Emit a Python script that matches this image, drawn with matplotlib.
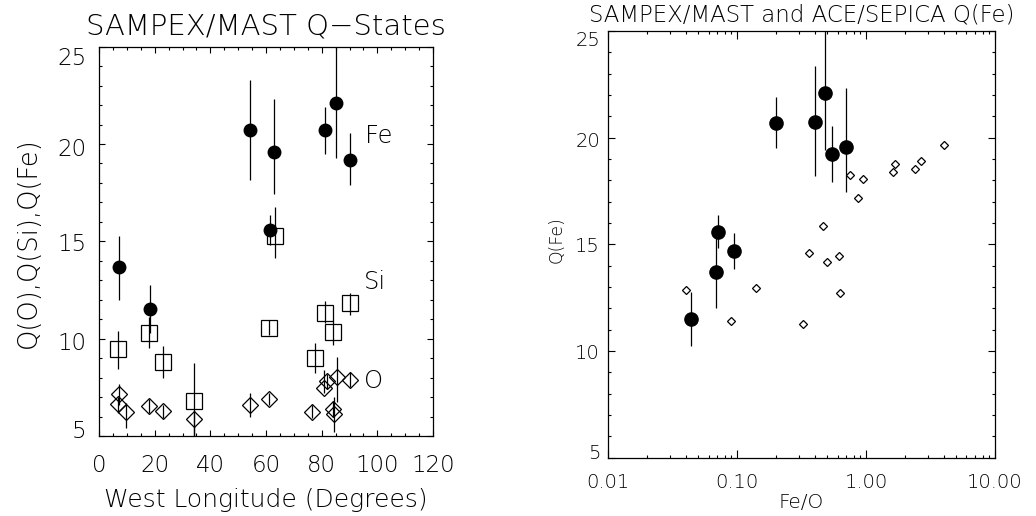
import numpy as np
import matplotlib
matplotlib.use('Agg')
from matplotlib import pyplot as plt
from matplotlib.ticker import MultipleLocator, FixedLocator, FuncFormatter, LogLocator, NullFormatter
from matplotlib.transforms import ScaledTranslation

plt.rcParams['font.family'] = ['DejaVu Sans']
plt.rcParams['font.weight'] = 200
plt.rcParams['axes.titleweight'] = 200

# SAMPEX/MAST charge states vs west longitude
lon_fe = [7.2, 18.3, 54.2, 62.9, 61.4, 81.1, 85.1, 90.0]
q_fe = [13.7, 11.5, 20.7, 19.6, 15.6, 20.7, 22.1, 19.2]
q_fe_lo = [12.0, 10.3, 18.15, 17.45, 14.8, 19.5, 19.3, 17.9]
q_fe_hi = [15.3, 12.75, 23.3, 22.3, 16.35, 21.9, 25.5, 20.55]

lon_si = [7.0, 17.9, 23.1, 34.1, 61.1, 63.2, 77.6, 81.2, 84.2, 90.2]
q_si = [9.45, 10.3, 8.78, 6.78, 10.57, 15.27, 8.99, 11.3, 10.35, 11.81]
q_si_lo = [8.43, 9.5, 8.0, 4.5, 10.2, 14.13, 8.22, 10.8, 9.67, 11.22]
q_si_hi = [10.4, 11.1, 9.6, 8.74, 10.96, 16.75, 9.76, 11.96, 10.96, 12.33]

lon_o = [7.2, 6.8, 9.7, 17.9, 23.1, 34.1, 54.2, 61.1, 76.7, 81.0, 81.8, 85.4, 84.2, 84.5, 90.2]
q_o = [7.14, 6.63, 6.25, 6.55, 6.27, 5.87, 6.59, 6.90, 6.25, 7.48, 7.82, 8.04, 6.37, 6.13, 7.87]
q_o_lo = [6.6, 6.2, 5.4, 6.2, 5.9, 4.5, 6.0, 6.6, 5.9, 7.2, 7.4, 6.76, 6.0, 5.2, 7.53]
q_o_hi = [7.66, 7.0, 6.7, 6.9, 6.6, 6.3, 7.2, 7.2, 6.6, 8.4, 8.2, 9.07, 6.8, 7.0, 8.3]

# Q(Fe) vs Fe/O
feo_mast = [0.044, 0.0687, 0.0708, 0.0937, 0.201, 0.402, 0.478, 0.544, 0.700]
qfe_mast = [11.48, 13.70, 15.59, 14.69, 20.70, 20.72, 22.11, 19.23, 19.58]
qfe_mast_lo = [10.25, 12.0, 14.81, 13.83, 19.5, 18.2, 19.4, 17.94, 17.47]
qfe_mast_hi = [12.75, 15.4, 16.38, 15.55, 21.92, 23.36, 25.5, 20.56, 22.31]

feo_sepica = [0.0402, 0.0898, 0.1406, 0.322, 0.361, 0.460, 0.498, 0.621, 0.632,
              0.746, 0.867, 0.948, 1.61, 1.69, 2.38, 2.66, 3.99]
qfe_sepica = [12.88, 11.42, 12.94, 11.27, 14.61, 15.86, 14.17, 14.45, 12.70,
              18.25, 17.19, 18.06, 18.38, 18.75, 18.55, 18.91, 19.66]


def yerr(v, lo, hi):
    v = np.array(v)
    return [v - np.array(lo), np.array(hi) - v]


def shift_ylabels(ax, fig, shifts):
    # nudge end labels inward like the original plot
    for lab, dy in zip(ax.get_yticklabels(), shifts):
        lab.set_transform(lab.get_transform() + ScaledTranslation(0, dy / 100, fig.dpi_scale_trans))


fig = plt.figure(figsize=(10.36, 5.16), dpi=100)
W, H = 1036, 516

# ---- left panel
ax1 = fig.add_axes([99 / W, 1 - 436 / H, (433 - 99) / W, (436 - 46.7) / H])
eb = dict(ecolor='black', elinewidth=0.9, capsize=0, linestyle='none')
ax1.errorbar(lon_o, q_o, yerr=yerr(q_o, q_o_lo, q_o_hi), fmt='D', ms=8.5,
             mfc='none', mec='black', mew=0.9, **eb)
ax1.errorbar(lon_si, q_si, yerr=yerr(q_si, q_si_lo, q_si_hi), fmt='s', ms=11,
             mfc='none', mec='black', mew=0.9, **eb)
ax1.errorbar(lon_fe, q_fe, yerr=yerr(q_fe, q_fe_lo, q_fe_hi), fmt='o', ms=9,
             mfc='black', mec='black', **eb)
ax1.set_xlim(0, 120)
ax1.set_ylim(5, 25)
ax1.xaxis.set_major_locator(MultipleLocator(20))
ax1.xaxis.set_minor_locator(MultipleLocator(5))
ax1.yaxis.set_major_locator(FixedLocator([5, 10, 15, 20, 25]))
ax1.yaxis.set_minor_locator(MultipleLocator(1))
ax1.tick_params(which='both', direction='in', top=True, right=True, labelsize=16.5, width=0.8,
                labelcolor='black')
ax1.tick_params(which='major', length=4.5)
ax1.tick_params(which='minor', length=2.2)
ax1.tick_params(axis='x', pad=13)
ax1.tick_params(axis='y', pad=9)
ax1.set_title('SAMPEX/MAST Q\u2212States', fontsize=21, pad=9)
ax1.text(95.5, 20.4, 'Fe', fontsize=17.5, va='center')
ax1.text(95.3, 12.9, 'Si', fontsize=17.5, va='center')
ax1.text(95.3, 7.8, 'O', fontsize=17.5, va='center')
fig.text(266 / W, 1 - 500 / H, 'West Longitude (Degrees)', fontsize=18, ha='center', va='center')
fig.text(28 / W, 1 - 243 / H, 'Q(O),Q(Si),Q(Fe)', fontsize=18.5, ha='center', va='center', rotation=90)
shift_ylabels(ax1, fig, [7, -2, -1, -3, -9])

# ---- right panel
ax2 = fig.add_axes([608.3 / W, 1 - 457.7 / H, (995 - 608.3) / W, (457.7 - 31) / H])
ax2.errorbar(feo_mast, qfe_mast, yerr=yerr(qfe_mast, qfe_mast_lo, qfe_mast_hi), fmt='o', ms=9.5,
             mfc='black', mec='black', **eb)
ax2.plot(feo_sepica, qfe_sepica, 'D', ms=3.8, mfc='white', mec='black', mew=0.9, linestyle='none')
ax2.set_xscale('log')
ax2.set_xlim(0.01, 10)
ax2.set_ylim(5, 25)
ax2.xaxis.set_major_locator(FixedLocator([0.01, 0.1, 1, 10]))
ax2.xaxis.set_major_formatter(FuncFormatter(lambda v, p: '%.2f' % v))
ax2.xaxis.set_minor_locator(LogLocator(base=10, subs=np.arange(2, 10), numticks=20))
ax2.xaxis.set_minor_formatter(NullFormatter())
ax2.yaxis.set_major_locator(FixedLocator([5, 10, 15, 20, 25]))
ax2.yaxis.set_minor_locator(MultipleLocator(1))
ax2.tick_params(which='both', direction='in', top=True, right=True, labelsize=14, width=0.8,
                labelcolor='black')
ax2.tick_params(axis='x', which='major', length=6)
ax2.tick_params(axis='y', which='major', length=5)
ax2.tick_params(which='minor', length=2.5)
ax2.tick_params(axis='x', pad=11)
ax2.tick_params(axis='y', pad=6)
ax2.set_title('SAMPEX/MAST and ACE/SEPICA Q(Fe)', fontsize=16.5, pad=7)
fig.text(801 / W, 1 - 503 / H, 'Fe/O', fontsize=14.5, ha='center', va='center')
fig.text(557 / W, 1 - 240 / H, 'Q(Fe)', fontsize=12.5, ha='center', va='center', rotation=90)
shift_ylabels(ax2, fig, [6, 0, 0, -2, -7])

for ax in (ax1, ax2):
    for s in ax.spines.values():
        s.set_linewidth(0.9)

fig.savefig('out.png', dpi=100)
